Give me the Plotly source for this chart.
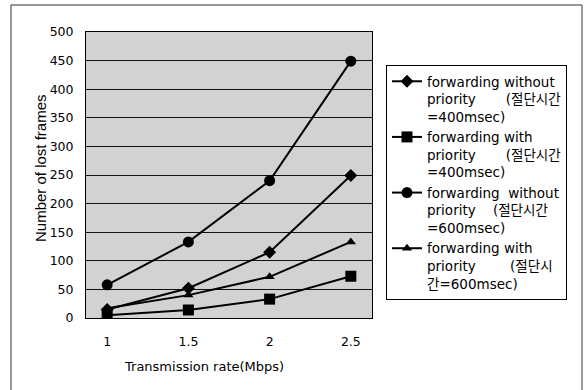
import plotly.graph_objects as go

rates = ["1", "1.5", "2", "2.5"]
wo_400 = [15, 52, 115, 249]
w_400 = [5, 14, 33, 73]
wo_600 = [58, 133, 240, 449]
w_600 = [17, 40, 72, 133]

NB = "\u00a0"
names = [
    "forwarding without<br>priority" + NB * 7 + "(절단시간<br>=400msec)",
    "forwarding with<br>priority" + NB * 7 + "(절단시간<br>=400msec)",
    "forwarding" + NB * 2 + "without<br>priority" + NB * 4 + "(절단시간<br>=600msec)",
    "forwarding with<br>priority" + NB * 8 + "(절단시<br>간=600msec)",
]
series = [wo_400, w_400, wo_600, w_600]
symbols = ["diamond", "square", "circle", "triangle-up"]
sizes = [10, 11, 11, 9]

fig = go.Figure()
for nm, ys, sym, sz in zip(names, series, symbols, sizes):
    fig.add_trace(go.Scatter(
        x=rates, y=ys, name=nm, mode="lines+markers",
        line=dict(color="black", width=2),
        marker=dict(symbol=sym, size=sz, color="black"),
    ))

font_main = "DejaVu Sans, Noto Sans CJK KR, sans-serif"

# plot area: x 86..372, y 32..318
L, R, T, B = 86, 214, 32, 72
W, H = 586, 390
pw, ph = W - L - R, H - T - B


def px(x):
    return (x - L) / pw


def py(y):
    return (H - B - y) / ph


fig.update_layout(
    width=W, height=H,
    margin=dict(l=L, r=R, t=T, b=B),
    paper_bgcolor="white",
    plot_bgcolor="#d2d2d2",
    font=dict(family=font_main, size=12, color="black"),
    showlegend=True,
    legend=dict(
        x=px(386), y=py(65), xanchor="left", yanchor="top",
        bordercolor="black", borderwidth=1, bgcolor="white",
        font=dict(family=font_main, size=13.5, color="black"),
        valign="top", tracegroupgap=0, itemwidth=30,
    ),
    xaxis=dict(
        type="category", showgrid=False, showline=True, mirror=True,
        linecolor="black", linewidth=1, ticks="", ticklabelstandoff=12,
        tickfont=dict(size=12.5), zeroline=False,
    ),
    yaxis=dict(
        range=[0, 500], dtick=50, showgrid=True, gridcolor="#111111",
        gridwidth=1, showline=True, mirror=True, linecolor="black",
        linewidth=1, ticks="", ticklabelstandoff=9, tickfont=dict(size=12.5),
        zeroline=False,
    ),
    annotations=[
        dict(text="Transmission rate(Mbps)", xref="paper", yref="paper",
             x=px(204), y=py(366), xanchor="center", yanchor="middle",
             showarrow=False, font=dict(family=font_main, size=13)),
        dict(text="Number of lost frames", xref="paper", yref="paper",
             x=px(40), y=py(168), xanchor="center", yanchor="middle",
             showarrow=False, textangle=-90,
             font=dict(family="Liberation Sans, Arial, sans-serif", size=15)),
    ],
    shapes=[
        dict(type="rect", xref="paper", yref="paper",
             x0=px(11), x1=px(582), y0=py(400), y1=py(5),
             line=dict(color="#333333", width=1), layer="below"),
    ],
)

fig.write_html("out.html")
